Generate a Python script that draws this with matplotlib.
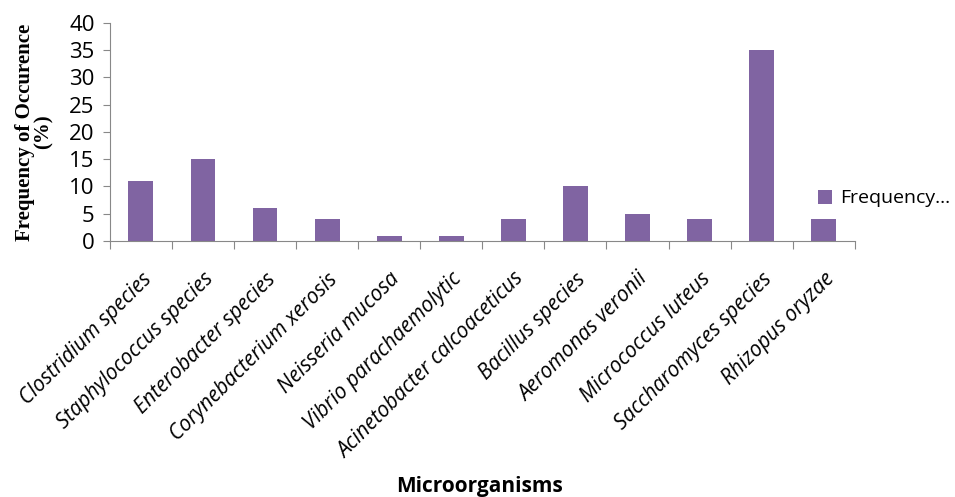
import matplotlib
matplotlib.use("Agg")
import matplotlib.pyplot as plt
import numpy as np

organisms = [
    "Clostridium species", "Staphylococcus species", "Enterobacter species",
    "Corynebacterium xerosis", "Neisseria mucosa", "Vibrio parachaemolytic",
    "Acinetobacter calcoaceticus", "Bacillus species", "Aeromonas veronii",
    "Micrococcus luteus", "Saccharomyces species", "Rhizopus oryzae",
]
frequency = [11, 15, 6, 4, 1, 1, 4, 10, 5, 4, 35, 4]
y_ticks = [0, 5, 10, 15, 20, 25, 30, 35, 40]

BAR_COLOR = "#8064A2"
AXIS_COLOR = "#888888"
FONT = "Open Sans"

fig = plt.figure(figsize=(9.55, 4.97), dpi=100)
ax = fig.add_axes([0.115, 0.515, 0.78, 0.439])

x = np.arange(len(organisms))
ax.bar(x, frequency, width=0.4, color=BAR_COLOR, label="Frequency...")

ax.set_xlim(-0.5, len(organisms) - 0.5)
ax.set_ylim(0, 40)
ax.set_yticks(y_ticks)
ax.set_yticklabels([str(v) for v in y_ticks], fontsize=16, family=FONT)

# category boundaries get the tick marks, labels sit under the bars
ax.set_xticks(np.arange(-0.5, len(organisms), 1.0))
ax.set_xticklabels([])
ax.set_xticks(x, minor=True)
ax.set_xticklabels(organisms, minor=True, rotation=45, ha="right",
                   rotation_mode="anchor", fontsize=15, style="italic", family=FONT)
ax.tick_params(axis="x", which="minor", length=0, pad=20)
ax.tick_params(axis="x", which="major", length=6, color=AXIS_COLOR, direction="out")
ax.tick_params(axis="y", length=5, color=AXIS_COLOR, direction="out", pad=6)

for side in ("top", "right"):
    ax.spines[side].set_visible(False)
for side in ("left", "bottom"):
    ax.spines[side].set_color(AXIS_COLOR)

ax.set_ylabel("Frequency of Occurence\n(%)", family="Liberation Serif",
              fontweight="bold", fontsize=15, labelpad=11, linespacing=0.95)

fig.text(0.502, 0.0, "Microorganisms", ha="center", va="bottom",
         fontsize=15, fontweight="bold", family=FONT)

ax.legend(loc="center left", bbox_to_anchor=(0.94, 0.195), frameon=False,
          handlelength=0.75, handleheight=0.75, handletextpad=0.4,
          borderaxespad=0, prop={"family": FONT, "size": 14})

fig.savefig("out.png", dpi=100)
plt.close(fig)
